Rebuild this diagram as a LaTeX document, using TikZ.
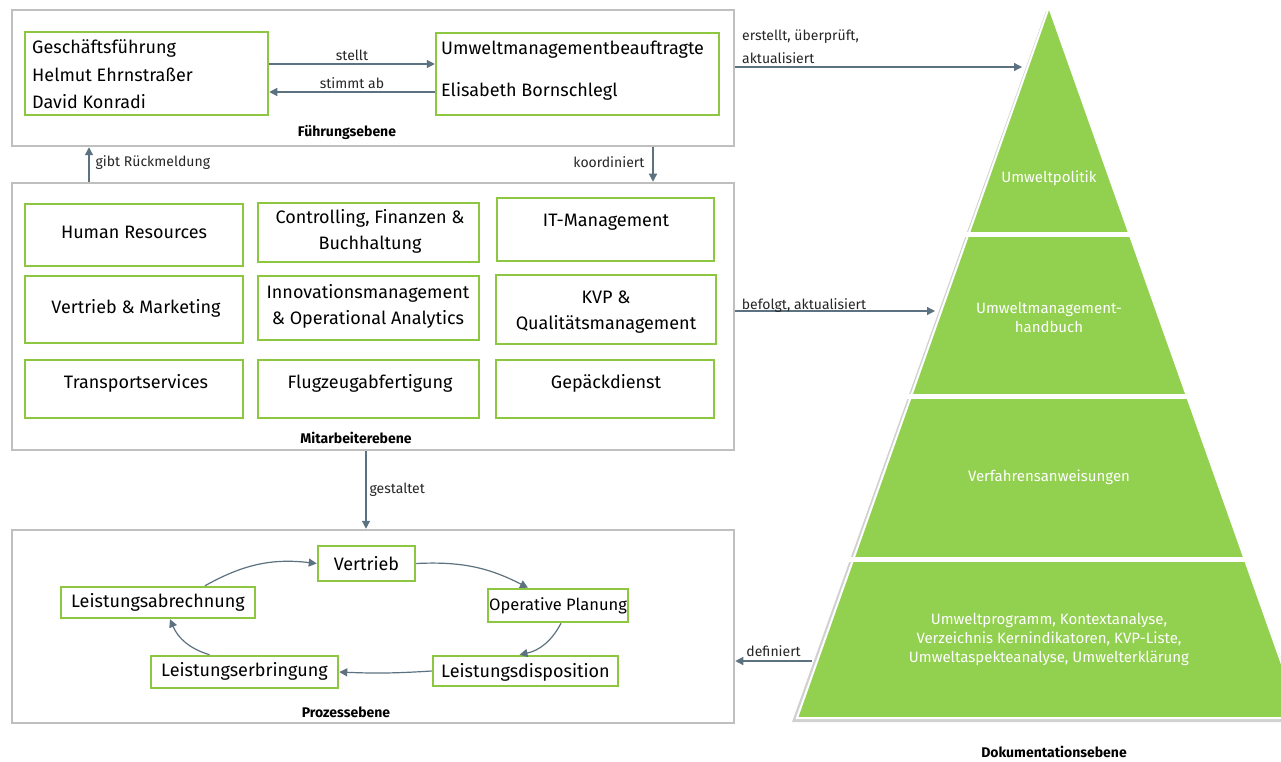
\documentclass[tikz,border=0pt]{standalone}
\usepackage{fontspec}
\setmainfont{Fira Sans}
\usetikzlibrary{arrows.meta}
\definecolor{lgreen}{HTML}{8DC63F}
\definecolor{pgreen}{HTML}{92D050}
\definecolor{boxgray}{HTML}{BFBFBF}
\definecolor{arrc}{HTML}{5D7280}
\begin{document}
\begin{tikzpicture}[x=1pt,y=-1pt,
  lvl/.style={draw=boxgray, line width=2.5pt, minimum width=#1},
  gbox/.style={draw=lgreen, line width=2.5pt, fill=white, inner sep=0},
  btxt/.style={font=\fontsize{18}{26}\selectfont, inner sep=0, align=center},
  stxt/.style={font=\fontsize{14}{23}\selectfont, inner sep=0, text=black!85},
  ltxt/.style={font=\bfseries\fontsize{14}{17}\selectfont, inner sep=0},
  ptxt/.style={font=\fontsize{15}{19}\selectfont, inner sep=0, text=white, align=center},
  arrow/.style={draw=arrc, line width=1.2pt, -{Triangle[length=8pt,width=8pt]}}]
\useasboundingbox (0,0) rectangle (1281,762);
\fill[white] (0,0) rectangle (1281,762);

% ---------- Fuehrungsebene ----------
\node[lvl=722pt, minimum height=136pt] (fe) at (373,78) {};
\node[gbox, minimum width=243pt, minimum height=83pt] (gf) at (146.5,73.5) {};
\node[gbox, minimum width=283pt, minimum height=82pt] (umb) at (577.5,74) {};
\node[btxt, anchor=west] (gf1) at (32,49) {Geschäftsführung};
\node[btxt, anchor=west] (gf2) at (32,75) {Helmut Ehrnstraßer};
\node[btxt, anchor=west] (gf3) at (32,102) {David Konradi};
\node[btxt, anchor=west] (umb1) at (441,50) {Umweltmanagementbeauftragte};
\node[btxt, anchor=west] (umb2) at (441,91) {Elisabeth Bornschlegl};
\draw[arrow] (gf.east |- 0,64) -- (umb.west |- 0,64) node[midway, above=3pt, stxt] (l1) {stellt};
\draw[arrow] (umb.west |- 0,92) -- (gf.east |- 0,92) node[midway, above=3pt, stxt] (l2) {stimmt ab};
\node[ltxt] (fel) at (347,132) {Führungsebene};

% ---------- Mitarbeiterebene ----------
\node[lvl=722pt, minimum height=267pt] (mb) at (373,316.5) {};
\node[gbox, minimum width=218pt, minimum height=62pt] (hr) at (134,235) {};
\node[gbox, minimum width=221pt, minimum height=59pt] (cfb) at (368.5,232.5) {};
\node[gbox, minimum width=217pt, minimum height=63pt] (it) at (605.5,229.5) {};
\node[gbox, minimum width=218pt, minimum height=67pt] (vm) at (134,309.5) {};
\node[gbox, minimum width=221pt, minimum height=64pt] (ioa) at (368.5,308) {};
\node[gbox, minimum width=220pt, minimum height=69pt] (kvp) at (606,309.5) {};
\node[gbox, minimum width=218pt, minimum height=58pt] (ts) at (134,389) {};
\node[gbox, minimum width=221pt, minimum height=58pt] (fa) at (368.5,389) {};
\node[gbox, minimum width=218pt, minimum height=58pt] (gd) at (605,389) {};
\node[btxt] (hrt) at (134,232) {Human Resources};
\node[btxt] (cfbt) at (370,231) {Controlling, Finanzen \&\\Buchhaltung};
\node[btxt] (itt) at (606,222) {IT-Management};
\node[btxt] (vmt) at (136,308) {Vertrieb \& Marketing};
\node[btxt] (ioat) at (368,306) {Innovationsmanagement\\\& Operational Analytics};
\node[btxt] (kvpt) at (606,312) {KVP \&\\Qualitätsmanagement};
\node[btxt] (tst) at (136,383) {Transportservices};
\node[btxt] (fat) at (370,383) {Flugzeugabfertigung};
\node[btxt] (gdt) at (606,383) {Gepäckdienst};
\node[ltxt] (mbl) at (356,438) {Mitarbeiterebene};

% level arrows
\draw[arrow] (mb.north -| 89,0) -- (fe.south -| 89,0) node[midway, right=6pt, yshift=2pt, stxt] (l3) {gibt Rückmeldung};
\draw[arrow] (fe.south -| 653,0) -- (mb.north -| 653,0) node[midway, left=8pt, yshift=2pt, stxt] (l4) {koordiniert};

% ---------- Prozessebene ----------
\node[lvl=722pt, minimum height=193pt] (pe) at (373,626.5) {};
\draw[arrow] (mb.south -| 366,0) -- (pe.north -| 366,0) node[midway, right=3pt, stxt] (l5) {gestaltet};
\node[gbox, minimum width=97pt, minimum height=35pt] (vt) at (366.5,563.5) {};
\node[gbox, minimum width=140pt, minimum height=33pt] (op) at (558,605.5) {};
\node[gbox, minimum width=185pt, minimum height=30pt] (ld) at (525.5,671) {};
\node[gbox, minimum width=187pt, minimum height=32pt] (le) at (244.5,672) {};
\node[gbox, minimum width=194pt, minimum height=31pt] (la) at (158,602.5) {};
\node[btxt] (vtt) at (366.5,564) {Vertrieb};
\node[btxt, font=\fontsize{16.5}{20}\selectfont] (opt) at (558,606) {Operative Planung};
\node[btxt] (ldt) at (525.5,672) {Leistungsdisposition};
\node[btxt] (let) at (244.5,671) {Leistungserbringung};
\node[btxt] (lat) at (158,602) {Leistungsabrechnung};
\node[ltxt] (pel) at (346,712) {Prozessebene};
\draw[arrow] ([xshift=47pt]la.north) to[bend left=18] (vt.west);
\draw[arrow] (vt.east) to[bend left=15] ([xshift=-30pt]op.north);
\draw[arrow] ([xshift=3pt]op.south) to[bend left=25] ([xshift=-6pt]ld.north);
\draw[arrow] (ld.west) to[bend left=3] (le.east);
\draw[arrow] ([xshift=-35pt]le.north) to[bend left=25] ([xshift=12pt]la.south);

% ---------- Pyramide ----------
\coordinate (apex) at (1049,7);
\coordinate (bl) at (797,718);
\coordinate (br) at (1301,718);
\fill[black, opacity=0.18] ([shift={(-3,4)}]apex) -- ([shift={(-5,4)}]bl) -- ([shift={(3,4)}]br) -- cycle;
\fill[pgreen] (apex) -- (bl) -- (br) -- cycle;
\draw[white, line width=2pt, line join=miter] (apex) -- (bl) -- (br) -- cycle;
\draw[white, line width=5pt] (955,234.5) -- (1145,234.5);
\draw[white, line width=5pt] (895,396.5) -- (1205,396.5);
\draw[white, line width=5pt] (835,559.5) -- (1265,559.5);
\node[ptxt] (p1) at (1049,178) {Umweltpolitik};
\node[ptxt] (p2) at (1049,317) {Umweltmanagement-\\handbuch};
\node[ptxt] (p3) at (1049,477) {Verfahrensanweisungen};
\node[ptxt] (p4) at (1049,639) {Umweltprogramm, Kontextanalyse,\\Verzeichnis Kernindikatoren, KVP-Liste,\\Umweltaspekteanalyse, Umwelterklärung};
\node[ltxt] (dl) at (1054,752) {Dokumentationsebene};

\coordinate (pe1) at (1022,67);
\coordinate (pe2) at (935,311);
\coordinate (pe3) at (812,661);
\draw[arrow] (fe.east |- pe1) -- (pe1);
\node[stxt, anchor=north west, align=left] (l6) at (742,30) {erstellt, überprüft,\\aktualisiert};
\draw[arrow] (mb.east |- pe2) -- (pe2) node[pos=0.02, anchor=south west, yshift=-2pt, xshift=2pt, stxt] (l7) {befolgt, aktualisiert};
\draw[arrow] (pe3) -- (pe.east |- pe3) node[midway, above=4pt, stxt] (l8) {definiert};
\end{tikzpicture}
\end{document}
